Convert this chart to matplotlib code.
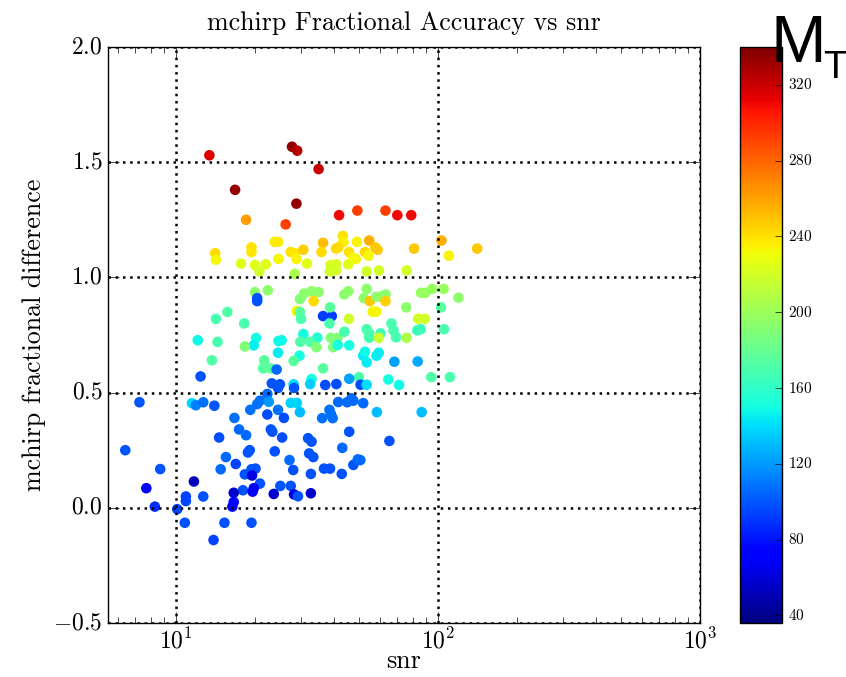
import numpy as np
import matplotlib
matplotlib.use("Agg")
import matplotlib.pyplot as plt

plt.style.use('classic')
plt.rcParams['font.family'] = 'cmr10'
plt.rcParams['mathtext.fontset'] = 'cm'
plt.rcParams['axes.formatter.use_mathtext'] = True
plt.rcParams['lines.scale_dashes'] = False

# snr, fractional mchirp error, total mass
snr = [13.4, 27.7, 29.0, 16.8, 28.8, 35.0, 18.5, 26.2, 41.9, 49.2, 63.0, 69.9, 79.0,
       14.1, 14.2, 19.4, 19.4, 23.8, 24.5, 27.4, 28.4, 30.6, 28.8, 24.6, 17.7, 20.0, 22.0,
       20.8, 31.6, 28.4, 43.3, 43.5, 36.4, 54.6, 49.0, 35.9, 40.8, 41.6, 45.7, 52.6, 57.6,
       58.8, 81.0, 103, 141, 110, 47.5, 48.5, 54.3, 38.9, 40.8, 45.4, 38.7, 40.8, 53.4,
       59.5, 75.9,
       20.0, 22.4, 20.4, 20.4, 29.7, 30.8, 32.9, 35.0, 33.5, 28.9, 29.7, 30.0, 36.4, 39.3,
       38.7, 38.5, 43.9, 45.4, 45.7, 15.7, 14.2, 18.2, 53.4, 52.1, 54.9, 58.2, 60.2, 63.0,
       63.0, 56.3, 58.0, 75.6, 86.1, 89.4, 95.0, 105, 119.6, 102.6, 105.4, 84.0, 89.1,
       30.6, 29.8, 29.6, 28.1, 12.1, 14.4, 20.2, 19.8, 18.3, 24.6, 25.3, 24.5, 13.7, 21.7,
       21.5, 23.0, 24.2, 12.4, 34.6, 32.5, 34.3, 39.0, 41.3, 39.8, 41.4, 43.9, 45.8, 53.4,
       54.6, 54.6, 60.3, 59.4, 66.4, 67.6, 69.1, 75.9, 83.3, 85.9, 36.4, 51.8, 53.4, 52.6,
       58.2, 59.4, 68.1, 83.6,
       49.9, 45.8, 32.9, 32.5, 37.1, 40.9, 50.6, 53.4, 64.6, 71.0, 94.2, 111, 23.2, 24.9,
       24.5, 28.1, 28.2,
       7.25, 11.5, 11.9, 12.7, 14.0, 22.3, 20.9, 20.4, 22.6, 27.4, 28.9, 29.7, 24.5, 19.2,
       16.7, 22.3, 25.8, 41.6, 45.0, 46.7, 47.5, 51.8, 38.5, 39.0, 39.6, 36.1, 58.4, 86.6,
       17.4, 23.0, 23.3, 18.5, 14.6, 25.4, 31.9, 32.9, 45.8, 6.4, 19.1, 18.8, 23.8, 43.1,
       65.2,
       8.7, 7.7, 8.3, 10.1, 11.7, 10.9, 10.9, 10.8, 12.7, 13.9, 15.5, 16.9, 14.8, 18.3,
       19.4, 20.1, 19.5, 20.9, 18.0, 16.6, 19.8, 19.6, 16.6, 16.4, 15.3, 19.4, 27.1, 28.0,
       25.0, 23.6, 27.4, 28.2, 29.2, 32.2, 33.4, 47.5, 49.4, 50.5, 36.7, 38.7, 32.7, 42.9,
       32.7]

frac_diff = [1.53, 1.567, 1.55, 1.38, 1.32, 1.47, 1.25, 1.23, 1.27, 1.29, 1.29, 1.27, 1.27,
             1.105, 1.077, 1.13, 1.11, 1.154, 1.154, 1.11, 1.105, 1.12, 1.08, 1.08, 1.06, 1.054, 1.057,
             1.026, 1.06, 1.015, 1.18, 1.154, 1.15, 1.16, 1.154, 1.11, 1.125, 1.13, 1.11, 1.11, 1.13,
             1.12, 1.125, 1.16, 1.125, 1.094, 1.083, 1.08, 1.094, 1.054, 1.057, 1.057, 1.026, 1.03, 1.026,
             1.03, 1.03,
             0.936, 0.944, 0.91, 0.897, 0.906, 0.93, 0.94, 0.936, 0.897, 0.854, 0.85, 0.82, 0.832, 0.832,
             0.87, 0.80, 0.926, 0.94, 0.82, 0.85, 0.82, 0.80, 0.95, 0.91, 0.897, 0.916, 0.916, 0.926,
             0.897, 0.851, 0.851, 0.87, 0.933, 0.933, 0.95, 0.95, 0.912, 0.87, 0.775, 0.82, 0.82,
             0.754, 0.72, 0.66, 0.637, 0.727, 0.72, 0.737, 0.705, 0.70, 0.724, 0.727, 0.673, 0.64, 0.64,
             0.605, 0.605, 0.60, 0.57, 0.738, 0.72, 0.697, 0.738, 0.737, 0.697, 0.707, 0.764, 0.705, 0.775,
             0.757, 0.738, 0.757, 0.738, 0.80, 0.77, 0.74, 0.738, 0.77, 0.775, 0.605, 0.66, 0.631, 0.677,
             0.66, 0.673, 0.634, 0.635,
             0.567, 0.56, 0.559, 0.537, 0.533, 0.537, 0.534, 0.534, 0.557, 0.533, 0.567, 0.567, 0.54, 0.536,
             0.52, 0.536, 0.52,
             0.458, 0.454, 0.445, 0.458, 0.443, 0.494, 0.465, 0.45, 0.46, 0.455, 0.455, 0.415, 0.425, 0.425,
             0.39, 0.405, 0.39, 0.459, 0.458, 0.475, 0.465, 0.454, 0.425, 0.407, 0.389, 0.389, 0.415, 0.415,
             0.34, 0.34, 0.33, 0.315, 0.305, 0.305, 0.302, 0.287, 0.33, 0.25, 0.25, 0.24, 0.245, 0.26,
             0.29,
             0.168, 0.085, 0.005, -0.006, 0.114, 0.049, 0.029, -0.065, 0.049, -0.14, 0.22, 0.19, 0.167, 0.145,
             0.167, 0.17, 0.14, 0.105, 0.076, 0.065, 0.085, 0.07, 0.025, 0.005, -0.065, -0.065, 0.207, 0.164,
             0.095, 0.06, 0.095, 0.058, 0.05, 0.236, 0.22, 0.186, 0.21, 0.207, 0.17, 0.17, 0.147, 0.147,
             0.063]

mtotal = [315, 335, 325, 335, 335, 322, 262, 292, 310, 292, 292, 310, 310,
          242, 232, 240, 238, 236, 236, 240, 238, 245, 234, 232, 225, 225, 225,
          220, 225, 205, 240, 235, 252, 256, 234, 242, 242, 242, 240, 242, 248,
          248, 248, 256, 248, 234, 232, 232, 232, 222, 222, 225, 220, 220, 220,
          220, 220,
          195, 195, 98, 98, 190, 195, 195, 195, 242, 234, 175, 170, 92, 92,
          175, 170, 195, 195, 218, 172, 168, 170, 195, 195, 248, 195, 195, 195,
          246, 234, 234, 195, 198, 198, 198, 198, 195, 175, 170, 220, 220,
          150, 172, 150, 175, 148, 170, 150, 145, 190, 148, 148, 145, 172, 175,
          175, 175, 105, 98, 155, 172, 190, 190, 190, 190, 150, 170, 150, 170,
          170, 170, 165, 216, 170, 168, 168, 205, 165, 165, 175, 145, 145, 148,
          145, 145, 122, 124,
          170, 122, 150, 135, 97, 97, 97, 140, 150, 148, 172, 170, 100, 100,
          100, 140, 100,
          100, 138, 112, 108, 100, 105, 108, 108, 120, 138, 138, 130, 108, 108,
          108, 97, 97, 105, 105, 105, 105, 105, 108, 108, 108, 108, 130, 130,
          105, 100, 100, 105, 97, 97, 100, 100, 98, 100, 100, 100, 98, 105,
          98,
          100, 75, 88, 95, 52, 95, 95, 98, 98, 95, 105, 95, 105, 100,
          98, 98, 62, 98, 100, 57, 68, 68, 75, 75, 98, 98, 105, 98,
          100, 57, 98, 62, 98, 100, 100, 100, 105, 105, 98, 98, 98, 98,
          57]

fig = plt.figure(figsize=(8.46, 6.77), dpi=100, facecolor='white')
ax = fig.add_axes([0.1277, 0.0798, 0.6998, 0.8508])
cax = fig.add_axes([0.8747, 0.0798, 0.0496, 0.8508])

sc = ax.scatter(snr, frac_diff, c=mtotal, cmap='jet', vmin=36, vmax=340,
                s=58, linewidths=0)
ax.set_xscale('log')
ax.set_xlim(5.5, 1000)
ax.set_ylim(-0.5, 2.0)
ax.set_yticks([-0.5, 0.0, 0.5, 1.0, 1.5, 2.0])
# square-dot grid
ax.grid(True, which='major', color='k', linestyle=(0, (1.8, 3.4)), linewidth=1.8)
ax.tick_params(which='major', length=8, labelsize=17)
ax.tick_params(which='minor', length=4)
ax.set_title('mchirp Fractional Accuracy vs snr', fontsize=18.7, pad=12)
ax.set_xlabel('snr', fontsize=18.7, labelpad=-3)
ax.set_ylabel('mchirp fractional difference', fontsize=18.7)

cb = fig.colorbar(sc, cax=cax)
cb.set_ticks([40, 80, 120, 160, 200, 240, 280, 320])
cb.ax.tick_params(labelsize=11, length=5)

fig.text(0.911, 0.9084, 'M', fontsize=48, family='Liberation Sans')
fig.text(0.973, 0.8848, 'T', fontsize=28, family='Liberation Sans')

fig.savefig('out.png', dpi=100, facecolor='white')
